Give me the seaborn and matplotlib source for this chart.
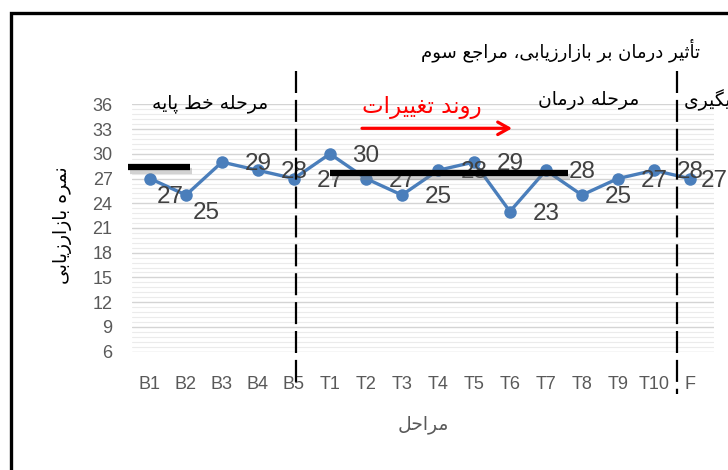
import numpy as np
import matplotlib
matplotlib.use("Agg")
import matplotlib.pyplot as plt
import matplotlib.patheffects as pe
from matplotlib.patches import Rectangle
import seaborn as sns

# ---------------- data ----------------
stages = ["B1", "B2", "B3", "B4", "B5", "T1", "T2", "T3", "T4", "T5",
          "T6", "T7", "T8", "T9", "T10", "F"]
scores = [27, 25, 29, 28, 27, 30, 27, 25, 28, 29, 23, 28, 25, 27, 28, 27]
y_ticks = [6, 9, 12, 15, 18, 21, 24, 27, 30, 33, 36]
baseline_level = 28.4
treatment_level = 27.65

title_txt = "تأثیر درمان بر بازارزیابی، مراجع سوم"
ylabel_txt = "نمره بازارزیابی"
xlabel_txt = "مراحل"
phase_base = "مرحله خط پایه"
phase_treat = "مرحله درمان"
phase_follow = "مرحله پیگیری"
trend_txt = "روند تغییرات"

# ---------------- Arabic/Persian shaping (no external libs) ----------------
FORMS = {
    'ا': ('\uFE8D', '\uFE8E', None, None),
    'أ': ('\uFE83', '\uFE84', None, None),
    'ب': ('\uFE8F', '\uFE90', '\uFE91', '\uFE92'),
    'پ': ('\uFB56', '\uFB57', '\uFB58', '\uFB59'),
    'ت': ('\uFE95', '\uFE96', '\uFE97', '\uFE98'),
    'ث': ('\uFE99', '\uFE9A', '\uFE9B', '\uFE9C'),
    'ج': ('\uFE9D', '\uFE9E', '\uFE9F', '\uFEA0'),
    'ح': ('\uFEA1', '\uFEA2', '\uFEA3', '\uFEA4'),
    'خ': ('\uFEA5', '\uFEA6', '\uFEA7', '\uFEA8'),
    'د': ('\uFEA9', '\uFEAA', None, None),
    'ر': ('\uFEAD', '\uFEAE', None, None),
    'ز': ('\uFEAF', '\uFEB0', None, None),
    'س': ('\uFEB1', '\uFEB2', '\uFEB3', '\uFEB4'),
    'ط': ('\uFEC1', '\uFEC2', '\uFEC3', '\uFEC4'),
    'ع': ('\uFEC9', '\uFECA', '\uFECB', '\uFECC'),
    'غ': ('\uFECD', '\uFECE', '\uFECF', '\uFED0'),
    'گ': ('\uFB92', '\uFB93', '\uFB94', '\uFB95'),
    'ل': ('\uFEDD', '\uFEDE', '\uFEDF', '\uFEE0'),
    'م': ('\uFEE1', '\uFEE2', '\uFEE3', '\uFEE4'),
    'ن': ('\uFEE5', '\uFEE6', '\uFEE7', '\uFEE8'),
    'ه': ('\uFEE9', '\uFEEA', '\uFEEB', '\uFEEC'),
    'و': ('\uFEED', '\uFEEE', None, None),
    'ی': ('\uFBFC', '\uFBFD', '\uFBFE', '\uFBFF'),
}


def shape(s):
    out = []
    n = len(s)
    for i, c in enumerate(s):
        if c not in FORMS:
            out.append(c)
            continue
        f = FORMS[c]
        prev = s[i - 1] if i > 0 else ''
        nxt = s[i + 1] if i < n - 1 else ''
        jp = prev in FORMS and FORMS[prev][2] is not None
        jn = f[2] is not None and nxt in FORMS
        if jp and jn:
            out.append(f[3])
        elif jp:
            out.append(f[1])
        elif jn:
            out.append(f[2])
        else:
            out.append(f[0])
    return ''.join(reversed(out))


# ---------------- figure ----------------
sns.set_style("white")
plt.rcParams['font.family'] = ['Liberation Sans', 'DejaVu Sans']
AR = ['DejaVu Sans']

W, H = 728, 470
fig = plt.figure(figsize=(W / 100, H / 100), dpi=100)
fig.patch.set_facecolor('white')

ax_l, ax_r, ax_t, ax_b = 132, 714, 104, 352
ax = fig.add_axes([ax_l / W, 1 - ax_b / H, (ax_r - ax_l) / W, (ax_b - ax_t) / H])
ax.set_facecolor('white')

line_color = '#4A7EBB'
sns.lineplot(x=stages, y=scores, ax=ax, sort=False, color=line_color,
             linewidth=2.4, marker='o', markersize=9, markeredgewidth=0,
             zorder=5)

ax.set_xlim(-0.5, 15.67)
ax.set_ylim(5.95, 36.05)
ax.set_yticks(y_ticks)
ax.set_yticks(np.arange(6, 36.01, 0.6), minor=True)
ax.grid(which='major', axis='y', color='#D4D4D4', linewidth=1.0, zorder=0)
ax.grid(which='minor', axis='y', color='#EBEBEB', linewidth=0.8, zorder=0)
ax.grid(which='both', axis='x', visible=False)
for sp in ax.spines.values():
    sp.set_visible(False)
ax.tick_params(which='both', length=0)
ax.tick_params(axis='y', pad=14, labelsize=13, labelcolor='#595959')
ax.tick_params(axis='x', pad=17, labelsize=13, labelcolor='#595959')
ax.set_xlabel('')
ax.set_ylabel('')

# data labels
for i, v in enumerate(scores):
    if i < 2:
        off = (14.5, -13)
    elif i == len(scores) - 1:
        off = (17.5, -2)
    else:
        off = (26, -1.5)
    ax.annotate(str(v), (i, v), xytext=off, textcoords='offset points',
                ha='center', va='center', fontsize=17.5, color='#404040',
                zorder=6)

# mean level lines with shadow
shadow = [pe.SimpleLineShadow(offset=(1.5, -2.5), shadow_color='gray', alpha=0.35),
          pe.Normal()]
ax.plot([-0.61, 1.11], [baseline_level, baseline_level], color='black',
        linewidth=4.5, solid_capstyle='butt', clip_on=False, zorder=7,
        path_effects=shadow)
ax.plot([5.0, 11.6], [treatment_level, treatment_level], color='black',
        linewidth=4.5, solid_capstyle='butt', clip_on=False, zorder=7,
        path_effects=shadow)

# phase dividers (dashed)
ax.plot([4.06, 4.06], [40.1, 2.25], color='black', linewidth=1.6,
        dashes=(9.9, 3.1), clip_on=False, zorder=8)
ax.plot([14.64, 14.64], [40.1, 0.8], color='black', linewidth=1.6,
        dashes=(9.9, 3.1), clip_on=False, zorder=8)

# trend arrow
ax.annotate('', xy=(10.06, 33.1), xytext=(5.89, 33.1),
            arrowprops=dict(arrowstyle='->,head_length=0.8,head_width=0.45',
                            color='red', lw=2.3, shrinkA=0, shrinkB=0),
            zorder=8)
ax.text(7.56, 35.6, shape(trend_txt), color='red', fontsize=16.5,
        ha='center', va='center', family=AR, zorder=8)

# phase labels
ax.text(1.67, 36.1, shape(phase_base), fontsize=13.5, ha='center',
        va='center', family=AR, color='black')
ax.text(12.2, 36.5, shape(phase_treat), fontsize=13.5, ha='center',
        va='center', family=AR, color='black')
fig.text(684 / W, 1 - 100 / H, shape(phase_follow), fontsize=13.5,
         ha='left', va='center', family=AR, color='black')

# title and axis titles
fig.text(700 / W, 1 - 50 / H, shape(title_txt), fontsize=13, ha='right',
         va='center', family=AR, color='black')
fig.text(62 / W, 1 - 225 / H, shape(ylabel_txt), fontsize=13.5, rotation=90,
         ha='center', va='center', family=AR, color='black')
fig.text(423 / W, 1 - 425 / H, shape(xlabel_txt), fontsize=13.5,
         ha='center', va='center', family=AR, color='#595959')

# outer frame (left and top edges visible)
fig.add_artist(Rectangle((11 / W, -0.1), 1.2, 1.1 - 13 / H,
                         transform=fig.transFigure, fill=False,
                         edgecolor='black', linewidth=2.4))

fig.savefig('out.png', dpi=100)
